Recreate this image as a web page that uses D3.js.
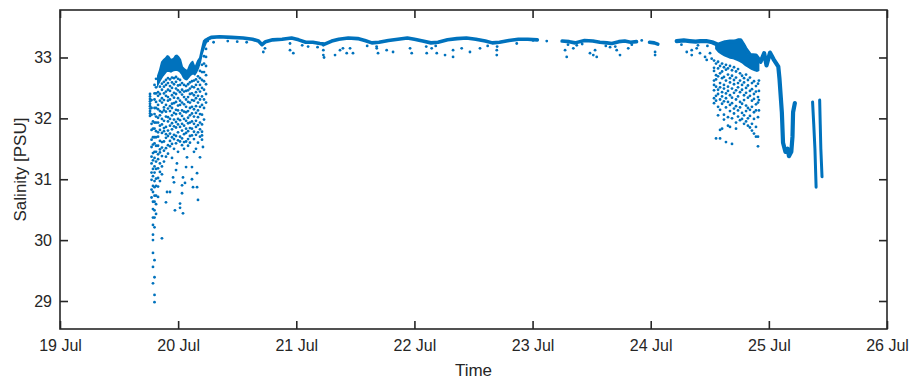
<!DOCTYPE html>
<html>
<head>
<meta charset="utf-8">
<script src="https://cdn.jsdelivr.net/npm/d3@7"></script>
<style>
  body { margin: 0; background: #fff; }
  svg { display: block; }
  text { font-family: "Liberation Sans", Arial, Helvetica, sans-serif; fill: #262626; }
</style>
</head>
<body>
<svg id="chart" width="915" height="383"></svg>
<script>
// ---- Axis ticks and labels ----
const xTickDays = [19, 20, 21, 22, 23, 24, 25, 26];
const xTickLabels = ["19 Jul", "20 Jul", "21 Jul", "22 Jul", "23 Jul", "24 Jul", "25 Jul", "26 Jul"];
const yTicks = [29, 30, 31, 32, 33];
const yTickLabels = ["29", "30", "31", "32", "33"];
const yExtent = [28.54, 33.78];

// ---- Salinity record (time in day of July, salinity in PSU) ----
// Continuous near-surface trace, split at data gaps
const bandA = [[20.25,33.30],[20.28,33.33],[20.35,33.34],[20.45,33.33],[20.55,33.32],[20.63,33.30],[20.68,33.27],[20.71,33.21],[20.74,33.26],[20.80,33.29],[20.88,33.30],[20.96,33.32],[21.02,33.29],[21.08,33.25],[21.14,33.25],[21.20,33.23],[21.24,33.22],[21.30,33.27],[21.36,33.30],[21.44,33.32],[21.52,33.31],[21.58,33.28],[21.64,33.24],[21.70,33.25],[21.78,33.28],[21.86,33.30],[21.94,33.32],[22.00,33.30],[22.07,33.27],[22.14,33.24],[22.20,33.25],[22.28,33.29],[22.36,33.31],[22.44,33.32],[22.52,33.30],[22.60,33.27],[22.66,33.24],[22.72,33.25],[22.80,33.28],[22.88,33.30],[22.96,33.30],[23.04,33.29]];
const bandB = [[23.25,33.27],[23.31,33.26],[23.36,33.24],[23.44,33.28],[23.51,33.27],[23.57,33.25],[23.63,33.24],[23.67,33.23],[23.73,33.26],[23.78,33.27],[23.83,33.25],[23.88,33.26]];
const bandC = [[23.99,33.25],[24.03,33.24],[24.06,33.22]];
const bandD = [[24.22,33.27],[24.28,33.28],[24.33,33.27],[24.38,33.26],[24.42,33.27],[24.47,33.27],[24.52,33.25],[24.57,33.21],[24.60,33.23],[24.63,33.25],[24.67,33.26],[24.71,33.26],[24.74,33.28],[24.76,33.28],[24.78,33.22],[24.80,33.15],[24.84,33.04],[24.89,33.03],[24.93,32.93],[24.96,33.07],[24.98,32.87],[25.01,33.08],[25.04,32.97],[25.08,32.85],[25.09,32.65],[25.11,32.10],[25.12,31.60],[25.14,31.45],[25.16,31.50],[25.17,31.38],[25.19,31.45],[25.20,31.70],[25.205,32.10],[25.22,32.25]];
const bandE1 = [[25.37,32.27],[25.38,31.90],[25.39,31.50],[25.40,30.87]];
const bandE2 = [[25.43,32.30],[25.435,31.90],[25.44,31.50],[25.45,31.04]];

// Densely sampled envelopes (day, upper, lower)
const leftCoreT   = [19.821,19.838,19.855,19.872,19.889,19.906,19.923,19.940,19.957,19.974,19.991,20.008,20.025,20.041,20.058,20.075,20.092,20.109,20.126,20.143,20.160,20.177,20.194,20.210,20.227,20.244,20.261];
const leftCoreTop = [32.70,32.80,32.93,32.97,33.00,33.04,33.03,32.98,32.99,33.04,33.05,33.02,32.97,32.85,32.82,32.80,32.88,32.93,32.95,32.87,32.95,33.00,33.15,33.28,33.31,33.32,33.32];
const leftCoreBot = [32.50,32.56,32.62,32.68,32.72,32.76,32.76,32.75,32.77,32.78,32.78,32.76,32.72,32.66,32.63,32.62,32.66,32.70,32.72,32.70,32.75,32.82,32.92,33.06,33.16,33.24,33.26];

const rightCoreT   = [24.545,24.570,24.595,24.620,24.646,24.671,24.697,24.722,24.747,24.773,24.798,24.823,24.849,24.874,24.899,24.920];
const rightCoreTop = [33.26,33.21,33.23,33.25,33.26,33.26,33.27,33.28,33.29,33.22,33.13,33.05,33.04,33.03,32.98,32.93];
const rightCoreBot = [33.14,33.08,33.05,33.02,33.00,32.98,32.97,32.95,32.93,32.90,32.86,32.83,32.80,32.78,32.76,32.78];

// Scattered samples, grouped by sampling time
const leftStreakT = [19.762, 19.775, 19.787, 19.800, 19.813];
const leftStreakS = [
  [32.40,32.36,32.32,32.28,32.24,32.20,32.16,32.12,32.08,32.04],
  [32.30,32.17,32.06,31.91,31.81,31.65,31.53,31.37,31.26,31.11,30.99,30.83,30.70],
  [31.95,31.83,31.69,31.57,31.43,31.31,31.17,31.05,30.89,30.79,30.63,30.51,30.37,30.25,30.09,30.00,29.79,29.56,29.29],
  [32.55,32.41,32.31,32.17,32.07,31.93,31.83,31.69,31.59,31.45,31.35,31.21,31.11,30.97,30.87,30.73,30.63,30.49,30.37,30.21,29.67,29.39,29.10,28.98],
  [32.65,32.51,32.41,32.27,32.17,32.03,31.93,31.79,31.69,31.55,31.45,31.29,31.17,31.01,30.89,30.73,30.59,30.43]
];

const leftCloudT = [19.830,19.846,19.863,19.880,19.897,19.914,19.931,19.948,19.965,19.982,19.999,20.016,20.033,20.050,20.067,20.084,20.100,20.117,20.134,20.151,20.168,20.185,20.202,20.219,20.236];
const leftCloudS = [
  [32.43,32.37,32.22,32.15,32.01,31.93,31.77,31.70,31.55,31.41,31.33,31.18,31.02,30.88,30.71],
  [32.52,32.40,32.29,32.12,32.05,31.88,31.81,31.63,31.49,31.44,31.26,31.12,30.97],
  [32.57,32.47,32.33,32.26,32.10,31.99,31.90,31.76,31.61,31.52,31.38,31.21,31.08],
  [32.60,32.52,32.41,32.30,32.18,32.13,31.96,31.84,31.79,31.62,31.47,31.29],
  [32.63,32.55,32.44,32.37,32.22,32.11,32.03,31.86,31.74,31.68,31.51,31.37,30.62],
  [32.66,32.58,32.47,32.35,32.29,32.16,32.02,31.95,31.80,31.71,31.56,31.42],
  [32.64,32.53,32.45,32.31,32.20,32.12,31.99,31.88,31.75,31.63,31.54],
  [32.67,32.59,32.50,32.38,32.24,32.17,32.05,31.92,31.82,31.69,31.58,31.35],
  [32.66,32.56,32.42,32.34,32.25,32.09,31.98,31.87,31.73,31.66,31.50,30.95],
  [32.68,32.60,32.49,32.40,32.27,32.14,32.07,31.94,31.85,31.71,31.59,31.15],
  [32.65,32.54,32.46,32.33,32.21,32.13,31.99,31.90,31.77,31.64,31.45],
  [32.63,32.55,32.43,32.29,32.22,32.08,31.97,31.86,31.70,31.62,30.60],
  [32.58,32.47,32.39,32.26,32.13,32.04,31.91,31.80,31.67,31.56,30.90],
  [32.55,32.44,32.35,32.23,32.11,31.99,31.88,31.74,31.61,31.50],
  [32.53,32.45,32.31,32.19,32.10,31.96,31.83,31.76,31.62,31.20],
  [32.56,32.46,32.35,32.27,32.12,32.01,31.92,31.79,31.66,31.55],
  [32.59,32.49,32.40,32.26,32.17,32.05,31.93,31.84,31.71,31.60],
  [32.61,32.52,32.41,32.30,32.19,32.08,31.95,31.83,31.72,31.00],
  [32.62,32.51,32.38,32.29,32.15,32.03,31.91,31.78,31.66,31.45],
  [32.64,32.55,32.43,32.33,32.20,32.09,31.96,31.86,31.73,31.50],
  [32.69,32.60,32.48,32.37,32.26,32.13,32.02,31.89,31.77,31.60],
  [32.78,32.66,32.55,32.44,32.31,32.19,32.07,31.93,31.82,31.70],
  [32.88,32.76,32.63,32.50,32.36,32.22,32.06,31.90,31.78,31.65],
  [33.02,32.90,32.76,32.61,32.47,32.31,32.17,31.98],
  [33.14,33.01,32.86,32.71,32.56,32.40,32.26]
];

const leftSparse = [[19.863,30.03],[19.906,30.79],[19.931,30.79],[19.973,30.49],[20.016,30.53],[20.041,30.44],[20.033,30.77],[20.058,30.94],[20.126,30.87],[20.160,30.87],[20.168,30.66],[20.117,31.20],[20.160,31.10],[20.185,31.36],[20.210,31.53],[20.202,31.72],[20.075,31.36],[20.041,31.03],[19.957,31.03],[19.990,31.26]];

const rightCloudT = [24.536,24.553,24.570,24.587,24.604,24.620,24.637,24.654,24.671,24.688,24.705,24.722,24.739,24.756,24.773,24.790,24.807,24.823,24.840,24.857,24.874,24.891,24.908,24.916];
const rightCloudS = [
  [32.95,32.83,32.78,32.62,32.55,32.46,32.33,32.25],
  [32.90,32.71,32.64,32.52,32.37,32.29,31.67],
  [32.93,32.82,32.69,32.47,32.40,32.19,32.05],
  [32.86,32.74,32.58,32.51,32.31,32.14,31.81,31.67],
  [32.90,32.77,32.66,32.43,32.36,32.24,31.83],
  [32.84,32.68,32.55,32.49,32.28,32.06,31.98],
  [32.88,32.80,32.62,32.41,32.33,32.18,31.61],
  [32.82,32.72,32.52,32.45,32.27,32.02,31.88],
  [32.86,32.66,32.59,32.38,32.22,32.12,31.86],
  [32.79,32.70,32.49,32.34,32.25,32.00,31.58],
  [32.84,32.63,32.56,32.42,32.16,32.08],
  [32.77,32.67,32.46,32.31,32.20,31.93,31.83],
  [32.81,32.58,32.51,32.36,32.13,32.03],
  [32.74,32.62,32.43,32.27,32.18,31.97],
  [32.70,32.55,32.47,32.24,32.09,31.99],
  [32.66,32.59,32.38,32.30,32.05,31.91],
  [32.72,32.50,32.42,32.21,32.12,31.95],
  [32.63,32.54,32.34,32.17,32.00,31.88],
  [32.67,32.45,32.37,32.14,32.04,31.85],
  [32.58,32.48,32.29,32.19,31.91,31.80],
  [32.61,32.40,32.32,32.10,31.99,31.75],
  [32.53,32.44,32.23,32.13,31.86,31.70],
  [32.57,32.35,32.26,32.02,31.70,31.54],
  [32.62,32.45,32.30,32.13]
];

// Isolated low readings under the surface trace
const bandSparse = [[20.30,33.25],[20.42,33.27],[20.50,33.26],[20.58,33.25],[20.721,33.09],[20.735,33.15],[20.947,33.23],[20.947,33.12],[20.975,33.07],[21.05,33.20],[21.10,33.18],[21.18,33.17],[21.229,33.20],[21.229,33.12],[21.229,33.04],[21.235,33.00],[21.328,33.04],[21.370,33.12],[21.395,33.15],[21.427,33.07],[21.455,33.15],[21.480,33.07],[21.60,33.19],[21.681,33.15],[21.68,33.18],[21.692,33.07],[21.765,33.12],[21.819,33.09],[21.963,33.15],[21.977,33.07],[22.104,33.07],[22.10,33.18],[22.146,33.15],[22.18,33.19],[22.189,33.07],[22.259,33.04],[22.327,33.01],[22.327,33.12],[22.400,33.15],[22.470,33.09],[22.555,33.15],[22.62,33.19],[22.697,33.12],[22.697,33.04],[22.70,33.18],[22.866,33.23],[23.004,33.28],[23.120,33.27],[23.275,33.12],[23.289,33.01],[23.30,33.21],[23.345,33.15],[23.374,33.20],[23.42,33.22],[23.486,33.07],[23.514,33.04],[23.543,33.01],[23.529,33.12],[23.62,33.19],[23.656,33.17],[23.70,33.18],[23.712,33.12],[23.740,33.04],[23.810,33.15],[23.84,33.21],[23.924,33.28],[24.037,33.09],[24.037,33.04],[24.26,33.21],[24.305,33.09],[24.347,33.04],[24.347,33.12],[24.389,33.15],[24.40,33.20],[24.417,33.07],[24.460,33.01],[24.474,32.96],[24.48,33.19],[24.502,33.07],[24.516,32.98]];

// ---- Layout ----
const svg = d3.select("#chart");
const plot = { left: 60, right: 887, top: 10, bottom: 329 };
const color = "#0072BD";
const ink = "#262626";

const toDate = d => new Date(Date.UTC(2019, 6, 1) + (d - 1) * 864e5);
const x = d3.scaleUtc().domain([toDate(19), toDate(26)]).range([plot.left, plot.right]);
const y = d3.scaleLinear().domain(yExtent).range([plot.bottom, plot.top]);

svg.append("defs").append("clipPath").attr("id", "clip")
  .append("rect").attr("x", plot.left).attr("y", plot.top)
  .attr("width", plot.right - plot.left).attr("height", plot.bottom - plot.top);

const g = svg.append("g").attr("clip-path", "url(#clip)");

// Dense envelopes
const area = d3.area().x(d => x(toDate(d.t))).y0(d => y(d.lo)).y1(d => y(d.hi));
const leftCore = leftCoreT.map((t, i) => ({ t, hi: leftCoreTop[i], lo: leftCoreBot[i] }));
const rightCore = rightCoreT.map((t, i) => ({ t, hi: rightCoreTop[i], lo: rightCoreBot[i] }));
g.append("path").attr("d", area(leftCore)).attr("fill", color);
g.append("path").attr("d", area(rightCore)).attr("fill", color);

// Surface trace
const line = d3.line().x(d => x(toDate(d[0]))).y(d => y(d[1]));
[[bandA, 3.6], [bandB, 3.6], [bandC, 3.6], [bandD, 4.2], [bandE1, 3], [bandE2, 3]].forEach(([seg, w]) => {
  g.append("path").attr("d", line(seg)).attr("fill", "none")
    .attr("stroke", color).attr("stroke-width", w)
    .attr("stroke-linejoin", "round").attr("stroke-linecap", "round");
});

// Scatter samples
const flatten = (ts, ss) => ts.flatMap((t, i) => ss[i].map(s => [t, s]));
const points = [].concat(
  flatten(leftStreakT, leftStreakS),
  flatten(leftCloudT, leftCloudS),
  leftSparse,
  flatten(rightCloudT, rightCloudS),
  bandSparse
);
g.selectAll("circle.pt").data(points).join("circle")
  .attr("class", "pt")
  .attr("cx", d => x(toDate(d[0])))
  .attr("cy", d => y(d[1]))
  .attr("r", 1.4)
  .attr("fill", color);

// ---- Axes (ticks pointing inward on all four sides) ----
const xTickDates = xTickDays.map(toDate);
const styleAxis = sel => {
  sel.select(".domain").remove();
  sel.selectAll(".tick line").attr("stroke", ink).attr("stroke-width", 1.6);
  sel.selectAll(".tick text").style("font-size", "16px").attr("fill", ink);
};

svg.append("g").attr("transform", `translate(0,${plot.bottom})`)
  .call(d3.axisBottom(x).tickValues(xTickDates).tickFormat((d, i) => xTickLabels[i])
    .tickSizeInner(-8).tickSizeOuter(0).tickPadding(11))
  .call(styleAxis);
svg.append("g").attr("transform", `translate(0,${plot.top})`)
  .call(d3.axisTop(x).tickValues(xTickDates).tickFormat("")
    .tickSizeInner(-8).tickSizeOuter(0))
  .call(styleAxis);
svg.append("g").attr("transform", `translate(${plot.left},0)`)
  .call(d3.axisLeft(y).tickValues(yTicks).tickFormat((d, i) => yTickLabels[i])
    .tickSizeInner(-8).tickSizeOuter(0).tickPadding(8))
  .call(styleAxis);
svg.append("g").attr("transform", `translate(${plot.right},0)`)
  .call(d3.axisRight(y).tickValues(yTicks).tickFormat("")
    .tickSizeInner(-8).tickSizeOuter(0))
  .call(styleAxis);

// Box
svg.append("rect")
  .attr("x", plot.left).attr("y", plot.top)
  .attr("width", plot.right - plot.left).attr("height", plot.bottom - plot.top)
  .attr("fill", "none").attr("stroke", ink).attr("stroke-width", 1.6);

// Axis titles
svg.append("text")
  .attr("x", (plot.left + plot.right) / 2).attr("y", 376)
  .attr("text-anchor", "middle").style("font-size", "17px")
  .text("Time");
svg.append("text")
  .attr("transform", `translate(26,${(plot.top + plot.bottom) / 2}) rotate(-90)`)
  .attr("text-anchor", "middle").style("font-size", "17px")
  .text("Salinity [PSU]");
</script>
</body>
</html>
